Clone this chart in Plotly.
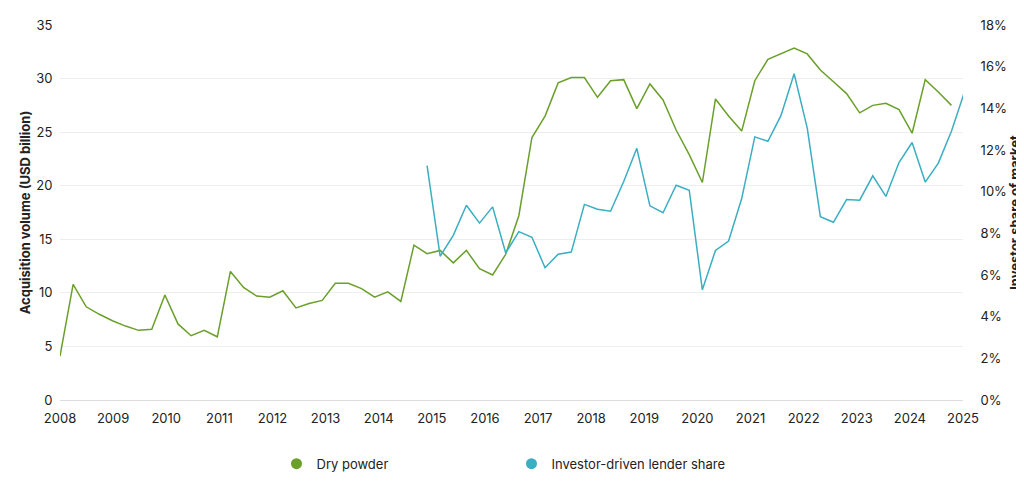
import plotly.graph_objects as go

dry_powder = [4.1,10.8,8.7,8.0,7.4,6.9,6.5,6.6,9.8,7.1,6.0,6.5,5.9,12.0,10.5,9.7,9.6,10.2,8.6,9.0,9.3,10.9,10.9,10.4,9.6,10.1,9.2,
              14.45,13.66,13.96,12.8,13.96,12.26,11.67,13.6,17.2,24.5,26.5,29.6,30.1,30.1,28.25,29.8,29.9,27.2,29.5,28.0,25.2,22.9,20.3,
              28.1,26.5,25.1,29.8,31.8,32.3,32.85,32.3,30.8,29.7,28.6,26.8,27.5,27.7,27.1,24.9,29.9,28.75,27.5]
lender_share = [11.25,6.9,7.9,9.35,8.49,9.27,7.06,8.08,7.81,6.35,7.0,7.1,9.39,9.16,9.06,10.49,12.08,9.32,8.99,10.31,10.07,5.29,
                7.18,7.63,9.67,12.63,12.42,13.66,15.66,13.05,8.8,8.53,9.62,9.59,10.76,9.77,11.4,12.36,10.46,11.37,12.9,14.8]
share_start = 28
step = 0.2468
x_green = [2008 + i*step for i in range(len(dry_powder))]
x_blue = [2008 + (share_start+i)*step for i in range(len(lender_share))]
years = list(range(2008, 2026))

GREEN = "#6a9f2a"; BLUE = "#3aaec2"
fig = go.Figure()
fig.add_trace(go.Scatter(x=x_green, y=dry_powder, mode="lines", line=dict(color=GREEN, width=1.5), showlegend=False))
fig.add_trace(go.Scatter(x=x_blue, y=lender_share, mode="lines", line=dict(color=BLUE, width=1.5), yaxis="y2", showlegend=False))
fig.add_trace(go.Scatter(x=[None], y=[None], mode="markers", marker=dict(color=GREEN, size=11), name="Dry powder"))
fig.add_trace(go.Scatter(x=[None], y=[None], mode="markers", marker=dict(color=BLUE, size=11), name="Investor-driven lender share"))

fig.update_layout(
    width=1024, height=483, plot_bgcolor="white", paper_bgcolor="white",
    margin=dict(l=52, r=69, t=17, b=69),
    font=dict(family="Inter", size=13, color="#222"),
    xaxis=dict(range=[2008, 2025], tickvals=years, ticktext=[str(y) for y in years], showgrid=False,
               showline=True, linecolor="#ddd", ticks="outside", ticklen=6, tickcolor="white", zeroline=False,
               automargin=False),
    yaxis=dict(range=[0, 35], dtick=5, gridcolor="#eeeeee", zeroline=False, ticks="outside", ticklen=4, tickcolor="white",
               automargin=False,
               title=dict(text="<b>Acquisition volume (USD billion)</b>", font=dict(size=13), standoff=2)),
    yaxis2=dict(range=[0, 18], dtick=2, ticksuffix="%", overlaying="y", side="right", showgrid=False, zeroline=False,
                ticks="outside", ticklen=14, tickcolor="white", automargin=False,
                title=dict(text="<b>Investor share of market</b>", font=dict(size=13), standoff=4)),
    legend=dict(orientation="h", x=0.5, xanchor="center", y=-0.13, yanchor="top", font=dict(size=13),
                itemwidth=30, entrywidth=190),
)
fig.write_html("out.html")
